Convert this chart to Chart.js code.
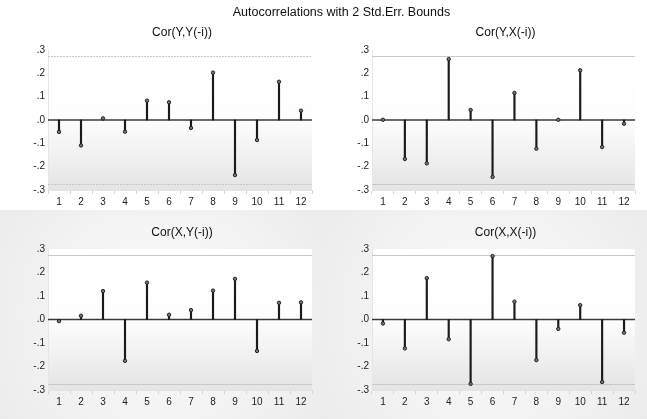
<!DOCTYPE html>
<html>
<head>
<meta charset="utf-8">
<script src="https://cdn.jsdelivr.net/npm/chart.js@4/dist/chart.umd.min.js"></script>
<style>
body { margin: 0; background: #fff; width: 647px; height: 419px; position: relative; overflow: hidden; font-family: "Liberation Sans", Arial, sans-serif; }
canvas { position: absolute; }
#title { position: absolute; left: 18px; top: 5px; width: 647px; text-align: center; font-size: 12.5px; line-height: 14px; color: #111; z-index: 2; white-space: nowrap; }
</style>
</head>
<body>
<canvas id="c1" width="323" height="210" style="left:0;top:0"></canvas>
<canvas id="c2" width="324" height="210" style="left:323px;top:0"></canvas>
<canvas id="c3" width="323" height="209" style="left:0;top:210px"></canvas>
<canvas id="c4" width="324" height="209" style="left:323px;top:210px"></canvas>
<div id="title">Autocorrelations with 2 Std.Err. Bounds</div>
<script>
var lags = ['1', '2', '3', '4', '5', '6', '7', '8', '9', '10', '11', '12'];

var corYY = [-0.051, -0.109, 0.007, -0.050, 0.083, 0.076, -0.034, 0.203, -0.236, -0.086, 0.164, 0.040];
var corYX = [0.001, -0.167, -0.186, 0.261, 0.043, -0.244, 0.116, -0.123, 0.001, 0.213, -0.116, -0.016];
var corXY = [-0.007, 0.016, 0.121, -0.176, 0.157, 0.020, 0.040, 0.123, 0.173, -0.134, 0.071, 0.073];
var corXX = [-0.017, -0.123, 0.176, -0.084, -0.274, 0.270, 0.076, -0.173, -0.040, 0.061, -0.266, -0.056];

var stdErrBound = 0.275;
var yTicks = [-0.3, -0.2, -0.1, 0.0, 0.1, 0.2, 0.3];

var acfPlugin = {
    id: 'acf',
    beforeDraw: function (chart, args, opts) {
        var ctx = chart.ctx;
        var a = chart.chartArea;
        var y = chart.scales.y;
        ctx.save();
        if (opts.bg) {
            // soft grey frame, lighter towards the middle
            var r = ctx.createRadialGradient(chart.width / 2, chart.height / 2, 40, chart.width / 2, chart.height / 2, chart.width * 0.62);
            r.addColorStop(0, '#f8f8f8');
            r.addColorStop(1, '#ebebeb');
            ctx.fillStyle = r;
            ctx.fillRect(0, 0, chart.width, chart.height);
        }
        var zero = y.getPixelForValue(0);
        var g = ctx.createLinearGradient(0, a.top, 0, a.bottom);
        var z = (zero - a.top) / (a.bottom - a.top);
        g.addColorStop(0, '#ffffff');
        g.addColorStop(z, '#fdfdfd');
        g.addColorStop(1, '#e4e4e4');
        ctx.fillStyle = g;
        ctx.fillRect(a.left, a.top, a.right - a.left, a.bottom - a.top);
        ctx.restore();
    },
    beforeDatasetsDraw: function (chart, args, opts) {
        var ctx = chart.ctx;
        var a = chart.chartArea;
        var y = chart.scales.y;
        ctx.save();
        ctx.strokeStyle = '#c8c8c8';
        ctx.lineWidth = 1.2;
        if (opts.dashed) ctx.setLineDash([2, 1]);
        [opts.bound, -opts.bound].forEach(function (b) {
            var py = Math.round(y.getPixelForValue(b)) + 0.5;
            ctx.beginPath();
            ctx.moveTo(a.left, py);
            ctx.lineTo(a.right, py);
            ctx.stroke();
        });
        ctx.setLineDash([]);
        var zy = y.getPixelForValue(0);
        ctx.strokeStyle = '#3a3a3a';
        ctx.lineWidth = 1.5;
        ctx.beginPath();
        ctx.moveTo(a.left, zy);
        ctx.lineTo(a.right, zy);
        ctx.stroke();
        ctx.restore();
    },
    afterDraw: function (chart, args, opts) {
        var ctx = chart.ctx;
        var a = chart.chartArea;
        ctx.save();
        ctx.font = '12px "Liberation Sans", Arial, sans-serif';
        ctx.fillStyle = '#111';
        ctx.textAlign = 'center';
        ctx.textBaseline = 'middle';
        ctx.fillText(opts.title, (a.left + a.right) / 2 + 2, opts.titleY);
        ctx.restore();
    }
};

function makePanel(id, title, values, o) {
    var ctx = document.getElementById(id).getContext('2d');
    return new Chart(ctx, {
        type: 'bar',
        data: {
            labels: lags,
            datasets: [{
                type: 'line',
                data: values,
                showLine: false,
                pointRadius: 1.7,
                pointBackgroundColor: '#777',
                pointBorderColor: '#222',
                pointBorderWidth: 1,
                order: 0
            }, {
                type: 'bar',
                data: values,
                backgroundColor: '#1a1a1a',
                barThickness: 1.5,
                order: 1
            }]
        },
        plugins: [acfPlugin],
        options: {
            responsive: false,
            animation: false,
            layout: { padding: { top: o.top, right: o.right, left: 0, bottom: 0 } },
            plugins: {
                legend: { display: false },
                tooltip: { enabled: false },
                acf: { title: title, titleY: o.titleY, bound: stdErrBound, dashed: o.dashed, bg: o.bg }
            },
            scales: {
                x: {
                    afterFit: function (s) { s.height = o.xh; },
                    grid: { display: true, drawOnChartArea: false, tickLength: 4, color: '#d4d4d4' },
                    border: { color: '#e2e2e2' },
                    ticks: { color: '#222', padding: 2, font: { size: 10, family: '"Liberation Sans", Arial, sans-serif' } }
                },
                y: {
                    min: -0.3,
                    max: 0.3,
                    afterFit: function (s) { s.width = o.yw; },
                    afterBuildTicks: function (s) { s.ticks = yTicks.map(function (v) { return { value: v }; }); },
                    grid: { display: false, drawTicks: false },
                    border: { display: true, color: '#e6e6e6' },
                    ticks: {
                        color: '#222',
                        padding: 3,
                        font: { size: 10, family: '"Liberation Sans", Arial, sans-serif' },
                        callback: function (v) { return v.toFixed(1).replace('0.', '.'); }
                    }
                }
            }
        }
    });
}

makePanel('c1', 'Cor(Y,Y(-i))', corYY, { top: 50, right: 11, yw: 48, xh: 20, titleY: 33, dashed: true });
makePanel('c2', 'Cor(Y,X(-i))', corYX, { top: 50, right: 12, yw: 49, xh: 20, titleY: 33, dashed: false });
makePanel('c3', 'Cor(X,Y(-i))', corXY, { top: 39, right: 11, yw: 48, xh: 29, titleY: 23, dashed: false, bg: true });
makePanel('c4', 'Cor(X,X(-i))', corXX, { top: 39, right: 12, yw: 49, xh: 29, titleY: 23, dashed: false, bg: true });
</script>
</body>
</html>
